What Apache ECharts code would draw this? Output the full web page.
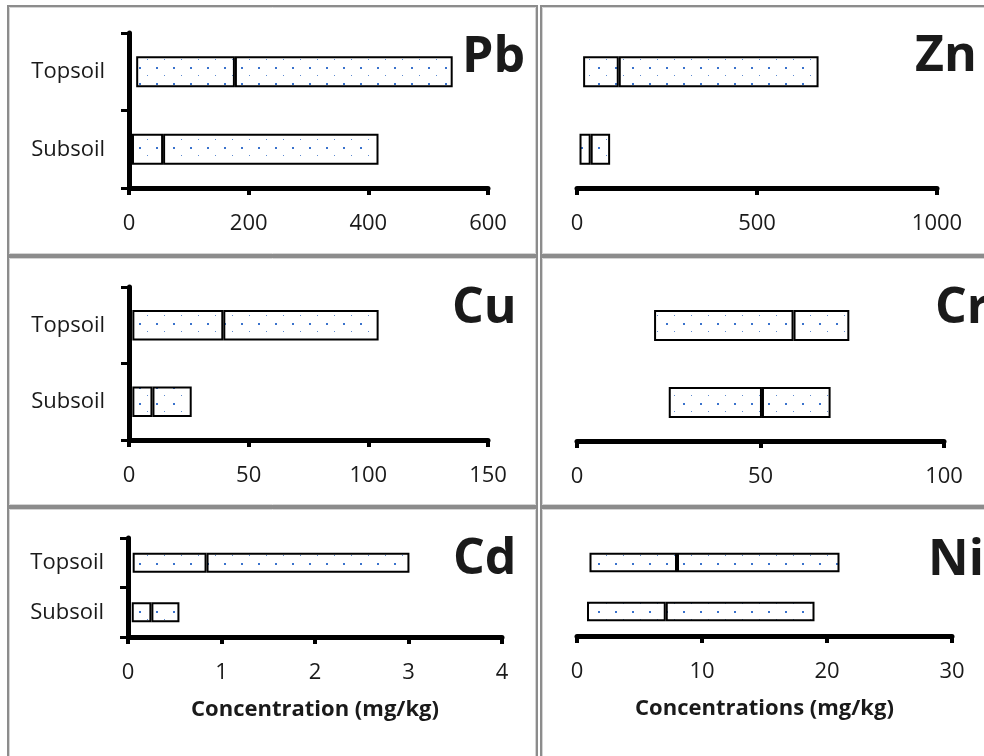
<!DOCTYPE html>
<html>
<head>
<meta charset="utf-8">
<script src="https://cdn.jsdelivr.net/npm/echarts@6/dist/echarts.min.js"></script>
<style>
  html, body { margin: 0; padding: 0; background: #fff; }
  #chart { width: 984px; height: 756px; }
</style>
</head>
<body>
<div id="chart"></div>
<script>
// Soil layers, listed bottom to top on the category axis
const soilLayers = ['Subsoil', 'Topsoil'];

// Element symbols shown in each panel
const elements = ['Pb', 'Zn', 'Cu', 'Cr', 'Cd', 'Ni'];

// Concentration ranges (mg/kg): minimum, median, maximum for [Subsoil, Topsoil]
const pbMin = [5, 12];
const pbMedian = [57, 177];
const pbMax = [417, 541];

const znMin = [7, 17];
const znMedian = [38, 116];
const znMax = [92, 671];

const cuMin = [1.4, 1.4];
const cuMedian = [9.8, 39.4];
const cuMax = [26.2, 104.3];

const crMin = [25, 21];
const crMedian = [50.4, 59];
const crMax = [69.1, 74.2];

const cdMin = [0.04, 0.05];
const cdMedian = [0.25, 0.84];
const cdMax = [0.55, 3.01];

const niMin = [0.8, 1.0];
const niMedian = [7.1, 8.0];
const niMax = [19.0, 21.0];

// Value axis extents and tick spacing per panel
const axisMax = [600, 1000, 150, 100, 4, 30];
const axisStep = [200, 500, 50, 50, 1, 10];

// Axis titles (only the bottom row carries one)
const axisTitles = ['', '', '', '', 'Concentration (mg/kg)', 'Concentrations (mg/kg)'];

const ranges = [
  [pbMin, pbMedian, pbMax],
  [znMin, znMedian, znMax],
  [cuMin, cuMedian, cuMax],
  [crMin, crMedian, crMax],
  [cdMin, cdMedian, cdMax],
  [niMin, niMedian, niMax]
];

// Plot area of each panel in pixels
const layout = [
  { left: 129, right: 496, top: 33, height: 155 },
  { left: 577, right: 47, top: 33, height: 155 },
  { left: 129, right: 496, top: 287, height: 153 },
  { left: 577, right: 40, top: 287, height: 154 },
  { left: 128, right: 482, top: 538, height: 99 },
  { left: 577, right: 32, top: 538, height: 98 }
];

// Where each element symbol sits (left edge, vertical centre)
const symbolPos = [
  [462, 58], [915, 57], [452, 309], [935, 309], [453, 560], [928, 561]
];

// Dotted fill tile: a blue dot and a fainter, offset dot
function dotTile() {
  const c = document.createElement('canvas');
  c.width = 17; c.height = 16;
  const g = c.getContext('2d');
  g.fillStyle = '#ffffff';
  g.fillRect(0, 0, 17, 16);
  g.fillStyle = '#3a72cc';
  g.fillRect(3, 3, 2, 2);
  g.fillStyle = '#5d8ad0';
  g.fillRect(11, 11, 1, 1);
  return c;
}
const dotFill = { image: dotTile(), repeat: 'repeat' };

const FONT = '"Open Sans", "Noto Sans", sans-serif';
const TEXT = '#1a1a1a';

const grids = [], xAxes = [], yAxes = [], series = [], graphics = [];

ranges.forEach(function (r, i) {
  const isLeft = i % 2 === 0;
  const lo = r[0], mid = r[1], hi = r[2];
  grids.push(Object.assign({ containLabel: false }, layout[i]));

  xAxes.push({
    gridIndex: i,
    type: 'value',
    min: 0,
    max: axisMax[i],
    interval: axisStep[i],
    splitLine: { show: false },
    axisLine: { show: true, lineStyle: { color: '#000', width: 5 } },
    axisTick: { show: true, length: 7, lineStyle: { color: '#000', width: 4 } },
    axisLabel: {
      fontSize: 22, fontFamily: FONT, color: TEXT, margin: 25,
      formatter: function (v) { return String(v); }
    },
    name: axisTitles[i],
    nameLocation: 'middle',
    nameGap: 62,
    nameTextStyle: { fontSize: 22, fontWeight: 'bold', fontFamily: FONT, color: TEXT }
  });

  yAxes.push({
    gridIndex: i,
    type: 'category',
    data: soilLayers,
    show: isLeft,
    axisLine: { show: true, lineStyle: { color: '#000', width: 5 } },
    axisTick: { show: true, length: 8, lineStyle: { color: '#000', width: 3 } },
    axisLabel: { fontSize: 22, fontFamily: FONT, color: TEXT, margin: 24 },
    splitLine: { show: false }
  });

  const stack = 'range' + i;
  // invisible offset up to the minimum
  series.push({
    type: 'bar', xAxisIndex: i, yAxisIndex: i, stack: stack,
    barWidth: '40%', silent: true,
    itemStyle: { color: 'rgba(0,0,0,0)' },
    data: lo
  });
  // minimum to median
  series.push({
    type: 'bar', xAxisIndex: i, yAxisIndex: i, stack: stack,
    barWidth: '40%',
    itemStyle: { color: dotFill, borderColor: '#000', borderWidth: 2 },
    data: mid.map(function (m, k) { return m - lo[k]; })
  });
  // median to maximum
  series.push({
    type: 'bar', xAxisIndex: i, yAxisIndex: i, stack: stack,
    barWidth: '40%',
    itemStyle: { color: dotFill, borderColor: '#000', borderWidth: 2 },
    data: hi.map(function (h, k) { return h - mid[k]; })
  });

  graphics.push({
    type: 'text',
    x: symbolPos[i][0],
    y: symbolPos[i][1],
    style: {
      text: elements[i],
      fontSize: 50,
      fontWeight: 'bold',
      fontFamily: FONT,
      fill: '#1a1a1a',
      textAlign: 'left',
      textVerticalAlign: 'middle'
    }
  });
});

// Panel frames: dark outer stroke with a light inner edge
const frames = [
  [8, 6, 529, 249], [541, 6, 600, 249],
  [8, 257, 529, 249], [541, 257, 600, 249],
  [8, 508, 529, 300], [541, 508, 600, 300]
];
frames.forEach(function (f) {
  graphics.push({
    type: 'rect', silent: true,
    shape: { x: f[0], y: f[1], width: f[2], height: f[3] },
    style: { fill: null, stroke: '#8c8c8c', lineWidth: 2 }
  });
  graphics.push({
    type: 'rect', silent: true,
    shape: { x: f[0] + 1.5, y: f[1] + 1.5, width: f[2] - 3, height: f[3] - 3 },
    style: { fill: null, stroke: '#d4d4d4', lineWidth: 1 }
  });
});

const chart = echarts.init(document.getElementById('chart'), null, { renderer: 'canvas' });
chart.setOption({
  backgroundColor: '#ffffff',
  animation: false,
  grid: grids,
  xAxis: xAxes,
  yAxis: yAxes,
  series: series,
  graphic: graphics
});
</script>
</body>
</html>
